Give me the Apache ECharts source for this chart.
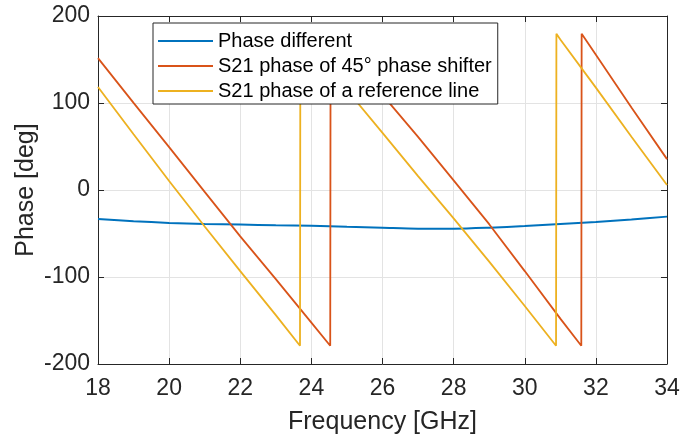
<!DOCTYPE html>
<html lang="en">
<head>
    <meta charset="UTF-8">
    <title>Phase vs frequency</title>
</head>
<body style="margin: 0">
<div id="container" style="height: 434px; width: 681px;"></div>
<script type="text/javascript" src="https://cdn.jsdelivr.net/npm/echarts@6.0.0/dist/echarts.min.js"></script>
<script type="text/javascript">
    // values, [GHz, deg]
    const phaseDiff = [
        [18, -33.2], [19, -35.8], [20, -37.8], [21, -39.0], [22, -39.7], [23, -40.5],
        [24, -41.2], [25, -42.3], [26, -43.4], [27, -44.4], [28, -44.4], [29, -43.3],
        [30, -41.4], [31, -39.0], [32, -36.7], [33, -33.8], [34, -30.6]
    ];
    const s21Shifter = [
        [18, 151.6], [19, 100.2], [20, 49.3], [21, -2.2], [22, -53.3], [23, -102.5],
        [24, -152.5], [24.53, -179], [24.54, 180], [25, 157.5], [26, 109.3], [27, 61],
        [28, 11], [29, -39.3], [30, -93.2], [31, -147.8], [31.59, -179], [31.6, 179.5],
        [32, 155.4], [33, 94.9], [34, 35.5]
    ];
    const s21Reference = [
        [18, 118.3], [19, 64], [20, 10.3], [21, -42], [22, -93.2], [23, -143.8],
        [23.68, -179], [23.69, 180], [24, 164], [25, 115], [26, 65.6], [27, 16],
        [28, -32.6], [29, -82.3], [30, -133.3], [30.88, -179], [30.89, 179.5],
        [31, 173], [32, 117.7], [33, 61.3], [34, 5.7]
    ];
    const seriesNames = ['Phase different', 'S21 phase of 45° phase shifter', 'S21 phase of a reference line'];
    const colors = ['#0072BD', '#D95319', '#EDB120'];

    const font = '"Liberation Sans", Arial, sans-serif';
    const ink = '#262626';

    const chart = echarts.init(document.getElementById('container'), null, {renderer: 'canvas'});

    // top and right axes only close the box
    const boxAxis = {
        axisLine: {show: true, onZero: false, lineStyle: {color: ink, width: 1}},
        axisTick: {show: true, inside: true, length: 6, lineStyle: {color: ink}},
        axisLabel: {show: false},
        splitLine: {show: false}
    };

    const option = {
        animation: false,
        backgroundColor: '#ffffff',
        color: colors,
        textStyle: {fontFamily: font, color: ink},
        grid: {left: 98, right: 14, top: 16, bottom: 70, containLabel: false, outerBoundsMode: 'none'},
        legend: {
            orient: 'vertical',
            left: 153,
            top: 23,
            padding: [8, 6, 3, 5],
            itemGap: 5,
            itemWidth: 55,
            itemHeight: 2,
            icon: 'rect',
            backgroundColor: '#ffffff',
            borderColor: ink,
            borderWidth: 1,
            textStyle: {fontFamily: font, fontSize: 20, color: '#000000'},
            data: seriesNames
        },
        xAxis: [
            {
                type: 'value',
                min: 18,
                max: 34,
                interval: 2,
                name: 'Frequency [GHz]',
                nameLocation: 'middle',
                nameGap: 46,
                nameMoveOverlap: false,
                nameTextStyle: {fontFamily: font, fontSize: 25, color: ink},
                axisLine: {show: true, onZero: false, lineStyle: {color: ink, width: 1}},
                axisTick: {show: true, inside: true, length: 6, lineStyle: {color: ink}},
                axisLabel: {fontFamily: font, fontSize: 23, color: ink, margin: 13},
                splitLine: {show: true, lineStyle: {color: '#e3e3e3', width: 1}}
            },
            Object.assign({type: 'value', min: 18, max: 34, interval: 2, position: 'top'}, boxAxis)
        ],
        yAxis: [
            {
                type: 'value',
                min: -200,
                max: 200,
                interval: 100,
                name: 'Phase [deg]',
                nameLocation: 'middle',
                nameGap: 59,
                nameMoveOverlap: false,
                nameTextStyle: {fontFamily: font, fontSize: 25, color: ink},
                axisLine: {show: true, onZero: false, lineStyle: {color: ink, width: 1}},
                axisTick: {show: true, inside: true, length: 6, lineStyle: {color: ink}},
                axisLabel: {fontFamily: font, fontSize: 23, color: ink, margin: 8},
                splitLine: {show: true, lineStyle: {color: '#e3e3e3', width: 1}}
            },
            Object.assign({type: 'value', min: -200, max: 200, interval: 100, position: 'right'}, boxAxis)
        ],
        series: [
            {
                name: seriesNames[0],
                type: 'line',
                data: phaseDiff,
                smooth: 0.3,
                showSymbol: false,
                lineStyle: {width: 2, color: colors[0]}
            },
            {
                name: seriesNames[1],
                type: 'line',
                data: s21Shifter,
                showSymbol: false,
                lineStyle: {width: 1.8, color: colors[1]}
            },
            {
                name: seriesNames[2],
                type: 'line',
                data: s21Reference,
                showSymbol: false,
                lineStyle: {width: 1.8, color: colors[2]}
            }
        ]
    };
    chart.setOption(option);
</script>
</body>
</html>
